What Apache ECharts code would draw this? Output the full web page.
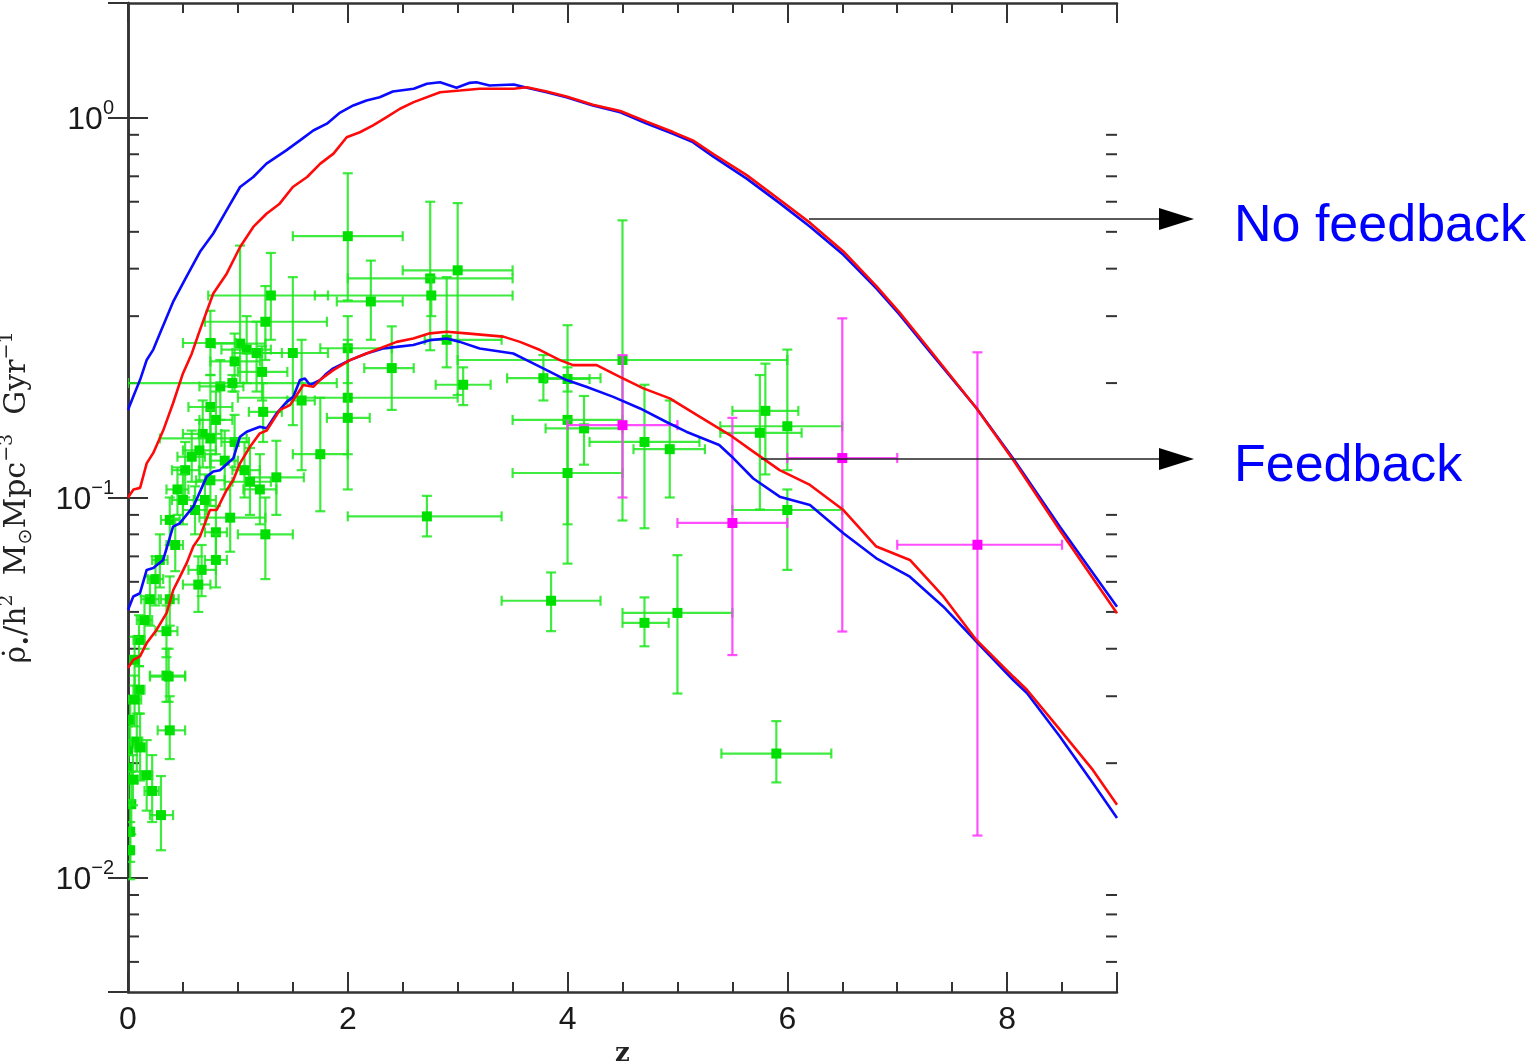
<!DOCTYPE html>
<html>
<head>
<meta charset="utf-8">
<style>
  html, body { margin: 0; padding: 0; background: #fff; }
  #chart { width: 1532px; height: 1064px; }
</style>
<script src="https://cdn.jsdelivr.net/npm/echarts@6/dist/echarts.min.js"></script>
</head>
<body>
<div id="chart"></div>
<script>
// Cosmic star formation rate density vs redshift: models with and without feedback, plus observations.

// Model curves [z, rho_dot]
const noFeedbackBlue = [[0,0.170],[0.05,0.185],[0.11,0.204],[0.17,0.23],[0.23,0.245],[0.29,0.27],[0.41,0.327],[0.53,0.38],[0.655,0.443],[0.776,0.495],[0.898,0.57],[1.02,0.656],[1.14,0.697],[1.26,0.756],[1.44,0.819],[1.565,0.87],[1.686,0.924],[1.81,0.963],[1.93,1.03],[2.05,1.075],[2.17,1.108],[2.29,1.13],[2.41,1.17],[2.6,1.19],[2.72,1.226],[2.84,1.238],[2.99,1.197],[3.11,1.233],[3.17,1.238],[3.29,1.213],[3.51,1.221],[3.63,1.197],[3.81,1.165],[3.99,1.13],[4.23,1.075],[4.48,1.032],[4.72,0.963],[4.96,0.906],[5.14,0.861],[5.33,0.787],[5.63,0.69],[5.93,0.595],[6.21,0.515],[6.51,0.435],[6.81,0.355],[7.02,0.303],[7.27,0.247],[7.72,0.172],[8.06,0.126],[8.48,0.0838],[9.0,0.0516]];
const noFeedbackRed = [[0,0.1],[0.05,0.105],[0.11,0.106],[0.17,0.123],[0.23,0.131],[0.32,0.15],[0.41,0.177],[0.5,0.212],[0.58,0.239],[0.655,0.276],[0.776,0.344],[0.898,0.388],[1.02,0.456],[1.14,0.515],[1.26,0.558],[1.38,0.593],[1.5,0.656],[1.63,0.697],[1.75,0.756],[1.87,0.803],[1.99,0.887],[2.11,0.914],[2.23,0.953],[2.35,1.0],[2.475,1.054],[2.6,1.097],[2.84,1.165],[3.02,1.177],[3.2,1.19],[3.51,1.19],[3.63,1.2],[3.81,1.17],[3.99,1.135],[4.23,1.08],[4.48,1.04],[4.72,0.975],[4.96,0.915],[5.14,0.87],[5.33,0.8],[5.63,0.705],[5.93,0.607],[6.21,0.527],[6.51,0.444],[6.81,0.36],[7.02,0.307],[7.27,0.25],[7.72,0.172],[8.06,0.125],[8.48,0.082],[9.0,0.0496]];
const feedbackBlue = [[0,0.0506],[0.048,0.0549],[0.109,0.056],[0.17,0.0645],[0.23,0.0652],[0.32,0.0685],[0.41,0.0838],[0.47,0.0855],[0.594,0.0946],[0.716,0.1135],[0.776,0.117],[0.837,0.118],[0.958,0.1268],[1.019,0.1445],[1.08,0.149],[1.2,0.1535],[1.262,0.152],[1.353,0.1665],[1.444,0.1785],[1.504,0.184],[1.565,0.2037],[1.61,0.2057],[1.656,0.1977],[1.747,0.2037],[1.808,0.212],[1.868,0.2187],[2.02,0.2298],[2.17,0.2393],[2.32,0.2466],[2.445,0.249],[2.596,0.252],[2.747,0.2594],[2.9,0.262],[3.02,0.2567],[3.2,0.2466],[3.506,0.2393],[3.66,0.2275],[3.81,0.2163],[3.99,0.2037],[4.17,0.1955],[4.416,0.184],[4.66,0.1715],[4.9,0.158],[5.08,0.149],[5.38,0.1375],[5.51,0.1268],[5.69,0.1122],[5.93,0.1005],[6.206,0.0955],[6.51,0.0805],[6.81,0.0692],[7.115,0.0619],[7.42,0.0516],[7.72,0.0418],[8.055,0.0331],[8.18,0.0306],[8.48,0.0235],[8.78,0.01774],[9.0,0.01435]];
const feedbackRed = [[0,0.0356],[0.048,0.0374],[0.109,0.0382],[0.17,0.0414],[0.261,0.0449],[0.352,0.0497],[0.412,0.0571],[0.473,0.0619],[0.534,0.0672],[0.594,0.0743],[0.655,0.0789],[0.746,0.0927],[0.807,0.0927],[0.898,0.1047],[0.958,0.1112],[1.019,0.123],[1.11,0.136],[1.2,0.1475],[1.262,0.15],[1.383,0.17],[1.474,0.175],[1.535,0.186],[1.595,0.1977],[1.686,0.1955],[1.747,0.2037],[1.868,0.2163],[2.02,0.2298],[2.17,0.2393],[2.445,0.2567],[2.596,0.262],[2.747,0.2703],[2.9,0.273],[3.08,0.2703],[3.415,0.265],[3.567,0.2567],[3.75,0.2443],[3.93,0.2298],[4.05,0.223],[4.265,0.223],[4.476,0.2077],[4.69,0.1937],[4.93,0.1823],[5.175,0.165],[5.478,0.146],[5.69,0.132],[5.93,0.118],[6.206,0.1079],[6.51,0.0927],[6.81,0.0743],[7.115,0.0685],[7.42,0.0549],[7.72,0.0422],[8.055,0.0338],[8.18,0.0312],[8.48,0.0245],[8.78,0.0192],[9.0,0.01555]];

// Observations: [z, rho_dot, zLow, zHigh, rhoLow, rhoHigh]
const greenObs = [
  [2.0,0.487,1.5,2.5,0.33,0.713],[2.21,0.328,1.9,2.5,0.26,0.42],[2.0,0.247,1.75,2.4,0.2,0.3],
  [2.0,0.183,1.0,3.0,0.13,0.26],[2.0,0.162,1.81,2.2,0.105,0.25],[2.4,0.219,2.15,2.6,0.17,0.282],
  [2.75,0.377,2.0,3.5,0.244,0.60],[2.76,0.34,1.7,3.5,0.3,0.38],[3.0,0.396,2.5,3.5,0.186,0.595],
  [2.9,0.26,2.7,3.4,0.22,0.38],[3.05,0.198,2.8,3.3,0.175,0.22],[2.72,0.0892,2.0,3.4,0.079,0.101],
  [3.85,0.0535,3.4,4.3,0.0445,0.0635],[3.78,0.206,3.45,4.3,0.18,0.237],[4.0,0.205,3.8,4.2,0.19,0.22],
  [4.0,0.16,3.5,4.5,0.067,0.284],[4.0,0.116,3.5,4.5,0.085,0.16],[4.15,0.152,3.8,4.5,0.122,0.185],
  [4.5,0.23,3.0,6.0,0.087,0.536],[4.7,0.14,4.2,5.2,0.083,0.198],[4.93,0.134,4.6,5.25,0.1,0.18],
  [4.7,0.0468,4.5,4.92,0.0406,0.0546],[5.0,0.0497,4.5,5.5,0.0305,0.0705],[5.9,0.0212,5.4,6.4,0.0178,0.0258],
  [5.8,0.169,5.5,6.1,0.115,0.225],[5.75,0.148,5.39,6.13,0.093,0.21],[6.0,0.154,5.39,6.5,0.118,0.245],
  [6.0,0.0927,5.5,6.5,0.0645,0.105],
  [1.3,0.34,0.73,1.82,0.26,0.44],[1.25,0.29,0.70,1.81,0.23,0.36],[1.02,0.254,0.79,1.25,0.20,0.46],
  [1.08,0.245,0.85,1.3,0.2,0.3],[1.17,0.24,0.95,1.4,0.19,0.29],[0.97,0.228,0.75,1.2,0.19,0.27],
  [1.22,0.214,1.0,1.45,0.18,0.25],[1.5,0.24,1.22,1.82,0.155,0.38],[0.84,0.196,0.65,1.05,0.16,0.23],
  [0.75,0.173,0.55,0.95,0.14,0.21],[1.23,0.168,1.1,1.4,0.14,0.2],[0.68,0.147,0.5,0.85,0.12,0.18],
  [0.65,0.133,0.5,0.8,0.11,0.16],[1.75,0.13,1.5,2.0,0.092,0.183],[0.8,0.16,0.65,0.95,0.13,0.19],
  [0.95,0.2,0.0,1.9,0.19,0.21],[1.35,0.113,1.1,1.6,0.09,0.141],[1.2,0.105,1.05,1.35,0.085,0.13],
  [1.11,0.11,0.95,1.3,0.09,0.135],[1.25,0.08,1.0,1.5,0.061,0.1],[0.93,0.0885,0.65,1.25,0.072,0.11],
  [0.8,0.081,0.7,0.9,0.07,0.095],[0.8,0.0685,0.7,0.9,0.058,0.08],[0.67,0.0645,0.55,0.8,0.055,0.075],
  [0.64,0.059,0.5,0.75,0.05,0.07],[0.52,0.118,0.4,0.65,0.1,0.14],[0.58,0.128,0.45,0.7,0.11,0.15],
  [0.45,0.105,0.35,0.55,0.09,0.12],[0.5,0.0985,0.4,0.6,0.085,0.115],[0.61,0.0927,0.5,0.72,0.08,0.107],
  [0.38,0.0873,0.3,0.47,0.075,0.1],[0.7,0.0985,0.6,0.8,0.085,0.115],[0.75,0.111,0.62,0.88,0.095,0.13],
  [0.88,0.125,0.75,1.0,0.105,0.15],[0.97,0.14,0.85,1.1,0.12,0.165],[1.06,0.118,0.95,1.2,0.1,0.14],
  [0.75,0.255,0.5,0.98,0.21,0.31],[0.75,0.143,0.29,1.08,0.12,0.17],[1.58,0.18,1.45,1.7,0.118,0.26],
  [0.35,0.0445,0.25,0.45,0.038,0.052],[0.35,0.034,0.2,0.52,0.029,0.04],[0.2,0.054,0.12,0.28,0.046,0.062],
  [0.25,0.061,0.18,0.32,0.052,0.07],[0.29,0.0685,0.22,0.36,0.058,0.08],[0.15,0.0476,0.08,0.22,0.04,0.055],
  [0.1,0.0422,0.05,0.15,0.036,0.049],[0.06,0.0374,0.02,0.1,0.032,0.043],[0.43,0.075,0.35,0.5,0.064,0.088],
  [0.38,0.054,0.3,0.46,0.046,0.062],[0.1,0.0312,0.05,0.15,0.027,0.036],[0.02,0.026,0.0,0.05,0.022,0.03],
  [0.0,0.0216,0.0,0.03,0.018,0.025],[0.003,0.0194,0.0,0.03,0.016,0.023],[0.03,0.0156,0.0,0.06,0.013,0.019],
  [0.02,0.0132,0.0,0.04,0.011,0.016],[0.08,0.0228,0.03,0.13,0.019,0.027],[0.11,0.022,0.06,0.16,0.018,0.027],
  [0.17,0.0186,0.12,0.22,0.015,0.023],[0.22,0.0169,0.15,0.28,0.014,0.021],[0.3,0.0146,0.2,0.41,0.0118,0.0185],
  [0.38,0.0244,0.27,0.52,0.0205,0.03],[0.37,0.0338,0.2,0.52,0.029,0.04],[0.02,0.0118,0.0,0.04,0.0099,0.014],
  [0.06,0.0294,0.0,0.12,0.025,0.034],[0.045,0.0181,0.0,0.09,0.0155,0.021]
];
const magentaObs = [
  [4.5,0.155,4.0,5.0,0.1,0.237],
  [5.5,0.0857,5.0,6.0,0.0385,0.162],
  [6.5,0.127,6.0,7.0,0.0444,0.296],
  [7.73,0.0751,7.0,8.5,0.0129,0.241]
];

// Log-axis minor tick values (2..9 x 10^n)
const yMinorTicks = [0.006,0.007,0.008,0.009,0.02,0.03,0.04,0.05,0.06,0.07,0.08,0.09,0.2,0.3,0.4,0.5,0.6,0.7,0.8,0.9];
const xRange = [0, 9];
const yRange = [0.005, 2];

const chart = echarts.init(document.getElementById('chart'), null, { renderer: 'canvas' });

function errorBarRenderer(lineColor, fillColor) {
  return function (params, api) {
    const z = api.value(0), v = api.value(1);
    const c = api.coord([z, v]);
    const l = api.coord([api.value(2), v]);
    const r = api.coord([api.value(3), v]);
    const lo = api.coord([z, api.value(4)]);
    const hi = api.coord([z, api.value(5)]);
    const cap = 5, sq = 5;
    const ls = { stroke: lineColor, lineWidth: 2.2 };
    const line = (x1, y1, x2, y2) => ({ type: 'line', shape: { x1, y1, x2, y2 }, style: ls });
    return {
      type: 'group',
      children: [
        line(l[0], c[1], r[0], c[1]),
        line(c[0], hi[1], c[0], lo[1]),
        line(l[0], c[1] - cap, l[0], c[1] + cap),
        line(r[0], c[1] - cap, r[0], c[1] + cap),
        line(c[0] - cap, hi[1], c[0] + cap, hi[1]),
        line(c[0] - cap, lo[1], c[0] + cap, lo[1]),
        { type: 'rect', shape: { x: c[0] - sq, y: c[1] - sq, width: 2 * sq, height: 2 * sq }, style: { fill: fillColor } }
      ]
    };
  };
}

function logLabel(v) {
  const lg = Math.log10(v);
  const e = Math.round(lg);
  if (Math.abs(lg - e) > 1e-6) return '';
  return '{b|10}{s|' + (e === 0 ? '0' : '\u2212' + (-e)) + '}';
}

const axisLineStyle = { color: '#333', width: 2.5 };
const tickStyle = { color: '#333', width: 2 };
const labelRich = {
  b: { fontFamily: 'Liberation Sans', fontSize: 32, color: '#1a1a1a', verticalAlign: 'bottom', lineHeight: 38 },
  s: { fontFamily: 'Liberation Sans', fontSize: 20, color: '#1a1a1a', verticalAlign: 'top' }
};

const option = {
  animation: false,
  backgroundColor: '#fff',
  grid: { left: 128, right: 415, top: 3, bottom: 72, containLabel: false, outerBoundsMode: 'none' },
  xAxis: [
    {
      type: 'value', min: xRange[0], max: xRange[1], interval: 2, position: 'bottom',
      name: 'z', nameLocation: 'middle', nameGap: 48,
      nameTextStyle: { fontFamily: 'DejaVu Serif', fontSize: 26, fontWeight: 'bold', color: '#222' },
      axisLine: { lineStyle: axisLineStyle },
      axisTick: { inside: true, length: 20, lineStyle: tickStyle },
      minorTick: { show: true, splitNumber: 4, length: 10, lineStyle: tickStyle },
      axisLabel: { fontFamily: 'Liberation Sans', fontSize: 32, color: '#1a1a1a', margin: 12, showMaxLabel: false },
      splitLine: { show: false }
    },
    {
      type: 'value', min: xRange[0], max: xRange[1], interval: 2, position: 'top',
      axisLine: { lineStyle: axisLineStyle },
      axisTick: { inside: true, length: 20, lineStyle: tickStyle },
      minorTick: { show: true, splitNumber: 4, length: 10, lineStyle: tickStyle },
      axisLabel: { show: false },
      splitLine: { show: false }
    }
  ],
  yAxis: [
    {
      type: 'log', logBase: 10, min: yRange[0], max: yRange[1], position: 'left',
      name: '{a|\u03C1\u0307}{st|\u2022}{a|/h}{sp|2}{a|  M}{sb|\u2299}{a|Mpc}{sp|\u22123}{a|  Gyr}{sp|\u22121}',
      nameLocation: 'middle', nameGap: 92, nameRotate: 90,
      nameTextStyle: {
        color: '#222',
        rich: {
          a: { fontFamily: 'DejaVu Serif', fontSize: 30, color: '#222', verticalAlign: 'middle', lineHeight: 38 },
          sp: { fontFamily: 'DejaVu Serif', fontSize: 19, color: '#222', verticalAlign: 'top' },
          sb: { fontFamily: 'DejaVu Sans', fontSize: 19, color: '#222', verticalAlign: 'bottom' },
          st: { fontFamily: 'DejaVu Sans', fontSize: 17, color: '#222', verticalAlign: 'bottom' }
        }
      },
      axisLine: { lineStyle: axisLineStyle },
      axisTick: { inside: true, length: 20, lineStyle: tickStyle },
      axisLabel: { formatter: logLabel, rich: labelRich, margin: 14, showMinLabel: false, showMaxLabel: false },
      splitLine: { show: false }
    },
    {
      type: 'log', logBase: 10, min: yRange[0], max: yRange[1], position: 'right',
      axisLine: { lineStyle: axisLineStyle },
      axisTick: { inside: true, length: 20, lineStyle: tickStyle },
      axisLabel: { show: false },
      splitLine: { show: false }
    }
  ],
  series: [
    {
      type: 'custom', name: 'log minor ticks', xAxisIndex: 0, yAxisIndex: 0,
      data: yMinorTicks.map(v => [xRange[0], v]), encode: { x: 0, y: 1 }, silent: true, clip: false,
      renderItem: function (params, api) {
        const v = api.value(1);
        const a = api.coord([xRange[0], v]);
        const b = api.coord([xRange[1], v]);
        return {
          type: 'group', children: [
            { type: 'line', shape: { x1: a[0], y1: a[1], x2: a[0] + 11, y2: a[1] }, style: { stroke: '#333', lineWidth: 2 } },
            { type: 'line', shape: { x1: b[0] - 11, y1: b[1], x2: b[0], y2: b[1] }, style: { stroke: '#333', lineWidth: 2 } }
          ]
        };
      }
    },
    {
      type: 'custom', name: 'green data', xAxisIndex: 0, yAxisIndex: 0,
      data: greenObs, encode: { x: 0, y: 1 }, clip: true,
      renderItem: errorBarRenderer('rgba(30,232,30,0.85)', '#00e000')
    },
    {
      type: 'custom', name: 'magenta data', xAxisIndex: 0, yAxisIndex: 0,
      data: magentaObs, encode: { x: 0, y: 1 }, clip: true,
      renderItem: errorBarRenderer('rgba(255,60,255,0.9)', '#ff00ff')
    },
    { type: 'line', name: 'no feedback (blue)', data: noFeedbackBlue, showSymbol: false, lineStyle: { color: '#0a0aff', width: 2.6 }, z: 5 },
    { type: 'line', name: 'no feedback (red)', data: noFeedbackRed, showSymbol: false, lineStyle: { color: '#ff0a0a', width: 2.6 }, z: 5 },
    { type: 'line', name: 'feedback (blue)', data: feedbackBlue, showSymbol: false, lineStyle: { color: '#0a0aff', width: 2.6 }, z: 5 },
    { type: 'line', name: 'feedback (red)', data: feedbackRed, showSymbol: false, lineStyle: { color: '#ff0a0a', width: 2.6 }, z: 5 }
  ],
  graphic: [
    { type: 'line', shape: { x1: 809, y1: 219, x2: 1170, y2: 219 }, style: { stroke: '#222', lineWidth: 1.3 }, z: 100 },
    { type: 'polygon', shape: { points: [[1159, 208], [1194, 219], [1159, 230]] }, style: { fill: '#000' }, z: 100 },
    { type: 'text', x: 1234, y: 227, style: { text: 'No feedback', fontFamily: 'Liberation Sans', fontSize: 52, fill: '#0000ff', verticalAlign: 'middle', align: 'left' }, z: 100 },
    { type: 'line', shape: { x1: 761, y1: 459, x2: 1170, y2: 459 }, style: { stroke: '#222', lineWidth: 1.3 }, z: 100 },
    { type: 'polygon', shape: { points: [[1159, 448], [1194, 459], [1159, 470]] }, style: { fill: '#000' }, z: 100 },
    { type: 'text', x: 1234, y: 467, style: { text: 'Feedback', fontFamily: 'Liberation Sans', fontSize: 52, fill: '#0000ff', verticalAlign: 'middle', align: 'left' }, z: 100 }
  ]
};

chart.setOption(option);
</script>
</body>
</html>
